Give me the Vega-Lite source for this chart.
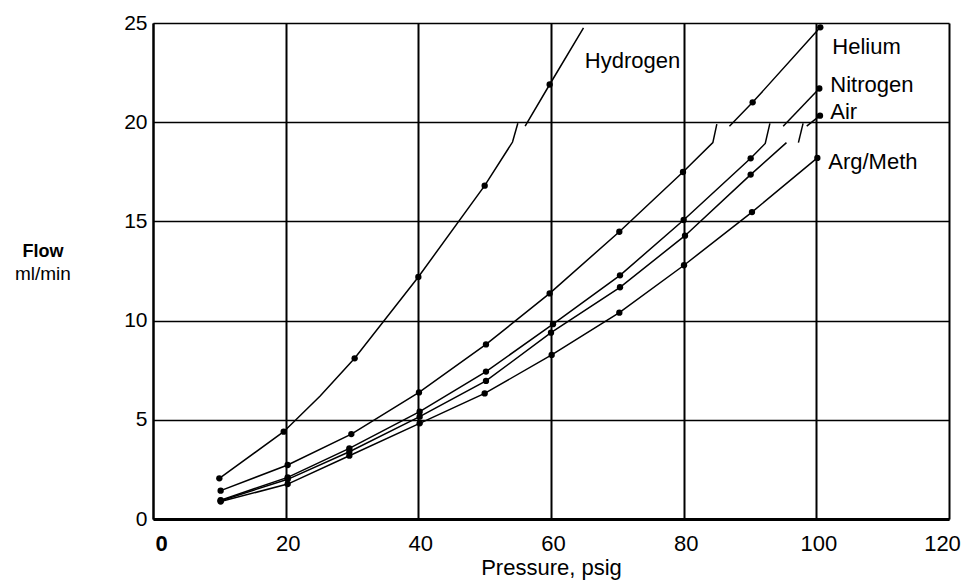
{
  "$schema": "https://vega.github.io/schema/vega-lite/v6.json",
  "width": 796,
  "height": 496,
  "autosize": {"type": "none"},
  "padding": {"left": 153, "top": 23, "right": 18, "bottom": 69},
  "background": "white",
  "config": {
    "view": {"stroke": null},
    "font": "Liberation Sans, Arial, sans-serif"
  },
  "datasets": {
    "curves": [
      {"gas": "Hydrogen", "seg": "Hydrogen 1", "p": 10, "f": 2.05, "dot": true},
      {"gas": "Hydrogen", "seg": "Hydrogen 1", "p": 19.7, "f": 4.4, "dot": true},
      {"gas": "Hydrogen", "seg": "Hydrogen 1", "p": 25.2, "f": 6.2, "dot": false},
      {"gas": "Hydrogen", "seg": "Hydrogen 1", "p": 30.4, "f": 8.1, "dot": true},
      {"gas": "Hydrogen", "seg": "Hydrogen 1", "p": 40, "f": 12.2, "dot": true},
      {"gas": "Hydrogen", "seg": "Hydrogen 1", "p": 50, "f": 16.8, "dot": true},
      {"gas": "Hydrogen", "seg": "Hydrogen 1", "p": 54.2, "f": 19.0, "dot": false},
      {"gas": "Hydrogen", "seg": "Hydrogen 1", "p": 55.0, "f": 19.95, "dot": false},
      {"gas": "Hydrogen", "seg": "Hydrogen 2", "p": 56.1, "f": 19.8, "dot": false},
      {"gas": "Hydrogen", "seg": "Hydrogen 2", "p": 59.8, "f": 21.9, "dot": true},
      {"gas": "Hydrogen", "seg": "Hydrogen 2", "p": 64.9, "f": 24.75, "dot": false},

      {"gas": "Helium", "seg": "Helium 1", "p": 10.2, "f": 1.43, "dot": true},
      {"gas": "Helium", "seg": "Helium 1", "p": 20.3, "f": 2.72, "dot": true},
      {"gas": "Helium", "seg": "Helium 1", "p": 29.9, "f": 4.28, "dot": true},
      {"gas": "Helium", "seg": "Helium 1", "p": 40.1, "f": 6.38, "dot": true},
      {"gas": "Helium", "seg": "Helium 1", "p": 50.2, "f": 8.8, "dot": true},
      {"gas": "Helium", "seg": "Helium 1", "p": 59.8, "f": 11.37, "dot": true},
      {"gas": "Helium", "seg": "Helium 1", "p": 70.3, "f": 14.48, "dot": true},
      {"gas": "Helium", "seg": "Helium 1", "p": 79.9, "f": 17.49, "dot": true},
      {"gas": "Helium", "seg": "Helium 1", "p": 84.4, "f": 18.97, "dot": false},
      {"gas": "Helium", "seg": "Helium 1", "p": 85.0, "f": 19.9, "dot": false},
      {"gas": "Helium", "seg": "Helium 2", "p": 86.9, "f": 19.8, "dot": false},
      {"gas": "Helium", "seg": "Helium 2", "p": 90.4, "f": 21.0, "dot": true},
      {"gas": "Helium", "seg": "Helium 2", "p": 100.6, "f": 24.78, "dot": true},

      {"gas": "Nitrogen", "seg": "Nitrogen 1", "p": 10.2, "f": 0.95, "dot": true},
      {"gas": "Nitrogen", "seg": "Nitrogen 1", "p": 20.3, "f": 2.1, "dot": true},
      {"gas": "Nitrogen", "seg": "Nitrogen 1", "p": 29.6, "f": 3.56, "dot": true},
      {"gas": "Nitrogen", "seg": "Nitrogen 1", "p": 40.2, "f": 5.41, "dot": true},
      {"gas": "Nitrogen", "seg": "Nitrogen 1", "p": 50.2, "f": 7.43, "dot": true},
      {"gas": "Nitrogen", "seg": "Nitrogen 1", "p": 60.3, "f": 9.82, "dot": true},
      {"gas": "Nitrogen", "seg": "Nitrogen 1", "p": 70.4, "f": 12.28, "dot": true},
      {"gas": "Nitrogen", "seg": "Nitrogen 1", "p": 80.0, "f": 15.07, "dot": true},
      {"gas": "Nitrogen", "seg": "Nitrogen 1", "p": 90.1, "f": 18.18, "dot": true},
      {"gas": "Nitrogen", "seg": "Nitrogen 1", "p": 92.3, "f": 18.93, "dot": false},
      {"gas": "Nitrogen", "seg": "Nitrogen 1", "p": 93.0, "f": 19.94, "dot": false},
      {"gas": "Nitrogen", "seg": "Nitrogen 2", "p": 95.0, "f": 19.8, "dot": false},
      {"gas": "Nitrogen", "seg": "Nitrogen 2", "p": 100.45, "f": 21.7, "dot": true},

      {"gas": "Air", "seg": "Air 1", "p": 10.2, "f": 0.92, "dot": true},
      {"gas": "Air", "seg": "Air 1", "p": 20.3, "f": 2.0, "dot": true},
      {"gas": "Air", "seg": "Air 1", "p": 29.6, "f": 3.39, "dot": true},
      {"gas": "Air", "seg": "Air 1", "p": 40.2, "f": 5.16, "dot": true},
      {"gas": "Air", "seg": "Air 1", "p": 50.2, "f": 6.96, "dot": true},
      {"gas": "Air", "seg": "Air 1", "p": 60.0, "f": 9.39, "dot": true},
      {"gas": "Air", "seg": "Air 1", "p": 70.4, "f": 11.68, "dot": true},
      {"gas": "Air", "seg": "Air 1", "p": 80.2, "f": 14.28, "dot": true},
      {"gas": "Air", "seg": "Air 1", "p": 90.1, "f": 17.36, "dot": true},
      {"gas": "Air", "seg": "Air 1", "p": 95.5, "f": 18.97, "dot": false},
      {"gas": "Air", "seg": "Air break", "p": 97.3, "f": 18.97, "dot": false},
      {"gas": "Air", "seg": "Air break", "p": 98.0, "f": 19.94, "dot": false},
      {"gas": "Air", "seg": "Air 2", "p": 98.55, "f": 19.8, "dot": false},
      {"gas": "Air", "seg": "Air 2", "p": 100.55, "f": 20.33, "dot": true},

      {"gas": "Arg/Meth", "seg": "Arg/Meth 1", "p": 10.2, "f": 0.88, "dot": true},
      {"gas": "Arg/Meth", "seg": "Arg/Meth 1", "p": 20.3, "f": 1.76, "dot": true},
      {"gas": "Arg/Meth", "seg": "Arg/Meth 1", "p": 29.6, "f": 3.19, "dot": true},
      {"gas": "Arg/Meth", "seg": "Arg/Meth 1", "p": 40.2, "f": 4.82, "dot": true},
      {"gas": "Arg/Meth", "seg": "Arg/Meth 1", "p": 50.0, "f": 6.33, "dot": true},
      {"gas": "Arg/Meth", "seg": "Arg/Meth 1", "p": 60.1, "f": 8.27, "dot": true},
      {"gas": "Arg/Meth", "seg": "Arg/Meth 1", "p": 70.3, "f": 10.4, "dot": true},
      {"gas": "Arg/Meth", "seg": "Arg/Meth 1", "p": 80.05, "f": 12.79, "dot": true},
      {"gas": "Arg/Meth", "seg": "Arg/Meth 1", "p": 90.3, "f": 15.47, "dot": true},
      {"gas": "Arg/Meth", "seg": "Arg/Meth 1", "p": 100.15, "f": 18.2, "dot": true}
    ],
    "names": [
      {"label": "Hydrogen", "p": 65.1, "f": 23.1},
      {"label": "Helium", "p": 102.4, "f": 23.8},
      {"label": "Nitrogen", "p": 102.1, "f": 21.9},
      {"label": "Air", "p": 102.1, "f": 20.5},
      {"label": "Arg/Meth", "p": 101.8, "f": 18.0}
    ]
  },
  "encoding": {
    "x": {
      "field": "p",
      "type": "quantitative",
      "scale": {"domain": [0, 120], "nice": false, "zero": false},
      "axis": {
        "values": [0, 20, 40, 60, 80, 100, 120],
        "grid": true,
        "gridColor": "black",
        "gridWidth": 2,
        "gridOpacity": 1,
        "ticks": false,
        "domainColor": "black",
        "domainWidth": 3,
        "labelFlush": false,
        "labelBound": false,
        "labelFontSize": 22,
        "labelColor": "black",
        "labelPadding": 14,
        "labelFontWeight": {"condition": {"test": "datum.value === 0", "value": "bold"}, "value": "normal"},
        "labelAlign": {"condition": {"test": "datum.value === 0", "value": "left"}, "value": "center"},
        "labelOffset": {"condition": {"test": "datum.value === 120", "value": -7}, "value": 2},
        "title": "Pressure, psig",
        "titleFontSize": 22,
        "titleFontWeight": "normal",
        "titleColor": "black",
        "titlePadding": 3
      }
    },
    "y": {
      "field": "f",
      "type": "quantitative",
      "scale": {"domain": [0, 25], "nice": false},
      "axis": {
        "values": [0, 5, 10, 15, 20, 25],
        "grid": true,
        "gridColor": "black",
        "gridWidth": 1.3,
        "gridOpacity": 1,
        "ticks": false,
        "domainColor": "black",
        "domainWidth": 2,
        "labelFontSize": 21,
        "labelColor": "black",
        "labelPadding": 6,
        "labelFlush": false,
        "labelBound": false,
        "title": null
      }
    }
  },
  "layer": [
    {
      "data": {"name": "curves"},
      "mark": {"type": "line", "color": "black", "strokeWidth": 1.5},
      "encoding": {"detail": {"field": "seg"}}
    },
    {
      "data": {"name": "curves"},
      "transform": [{"filter": "datum.dot"}],
      "mark": {"type": "circle", "color": "black", "opacity": 1, "size": 40}
    },
    {
      "data": {"name": "names"},
      "mark": {"type": "text", "align": "left", "baseline": "middle", "fontSize": 22, "color": "black"},
      "encoding": {"text": {"field": "label"}}
    },
    {
      "data": {"values": [{"label": "Flow", "p": -16.6, "f": 13.45}]},
      "mark": {"type": "text", "align": "center", "baseline": "middle", "fontSize": 18, "fontWeight": "bold", "color": "black"},
      "encoding": {"text": {"field": "label"}}
    },
    {
      "data": {"values": [{"label": "ml/min", "p": -16.6, "f": 12.35}]},
      "mark": {"type": "text", "align": "center", "baseline": "middle", "fontSize": 19, "color": "black"},
      "encoding": {"text": {"field": "label"}}
    }
  ]
}
